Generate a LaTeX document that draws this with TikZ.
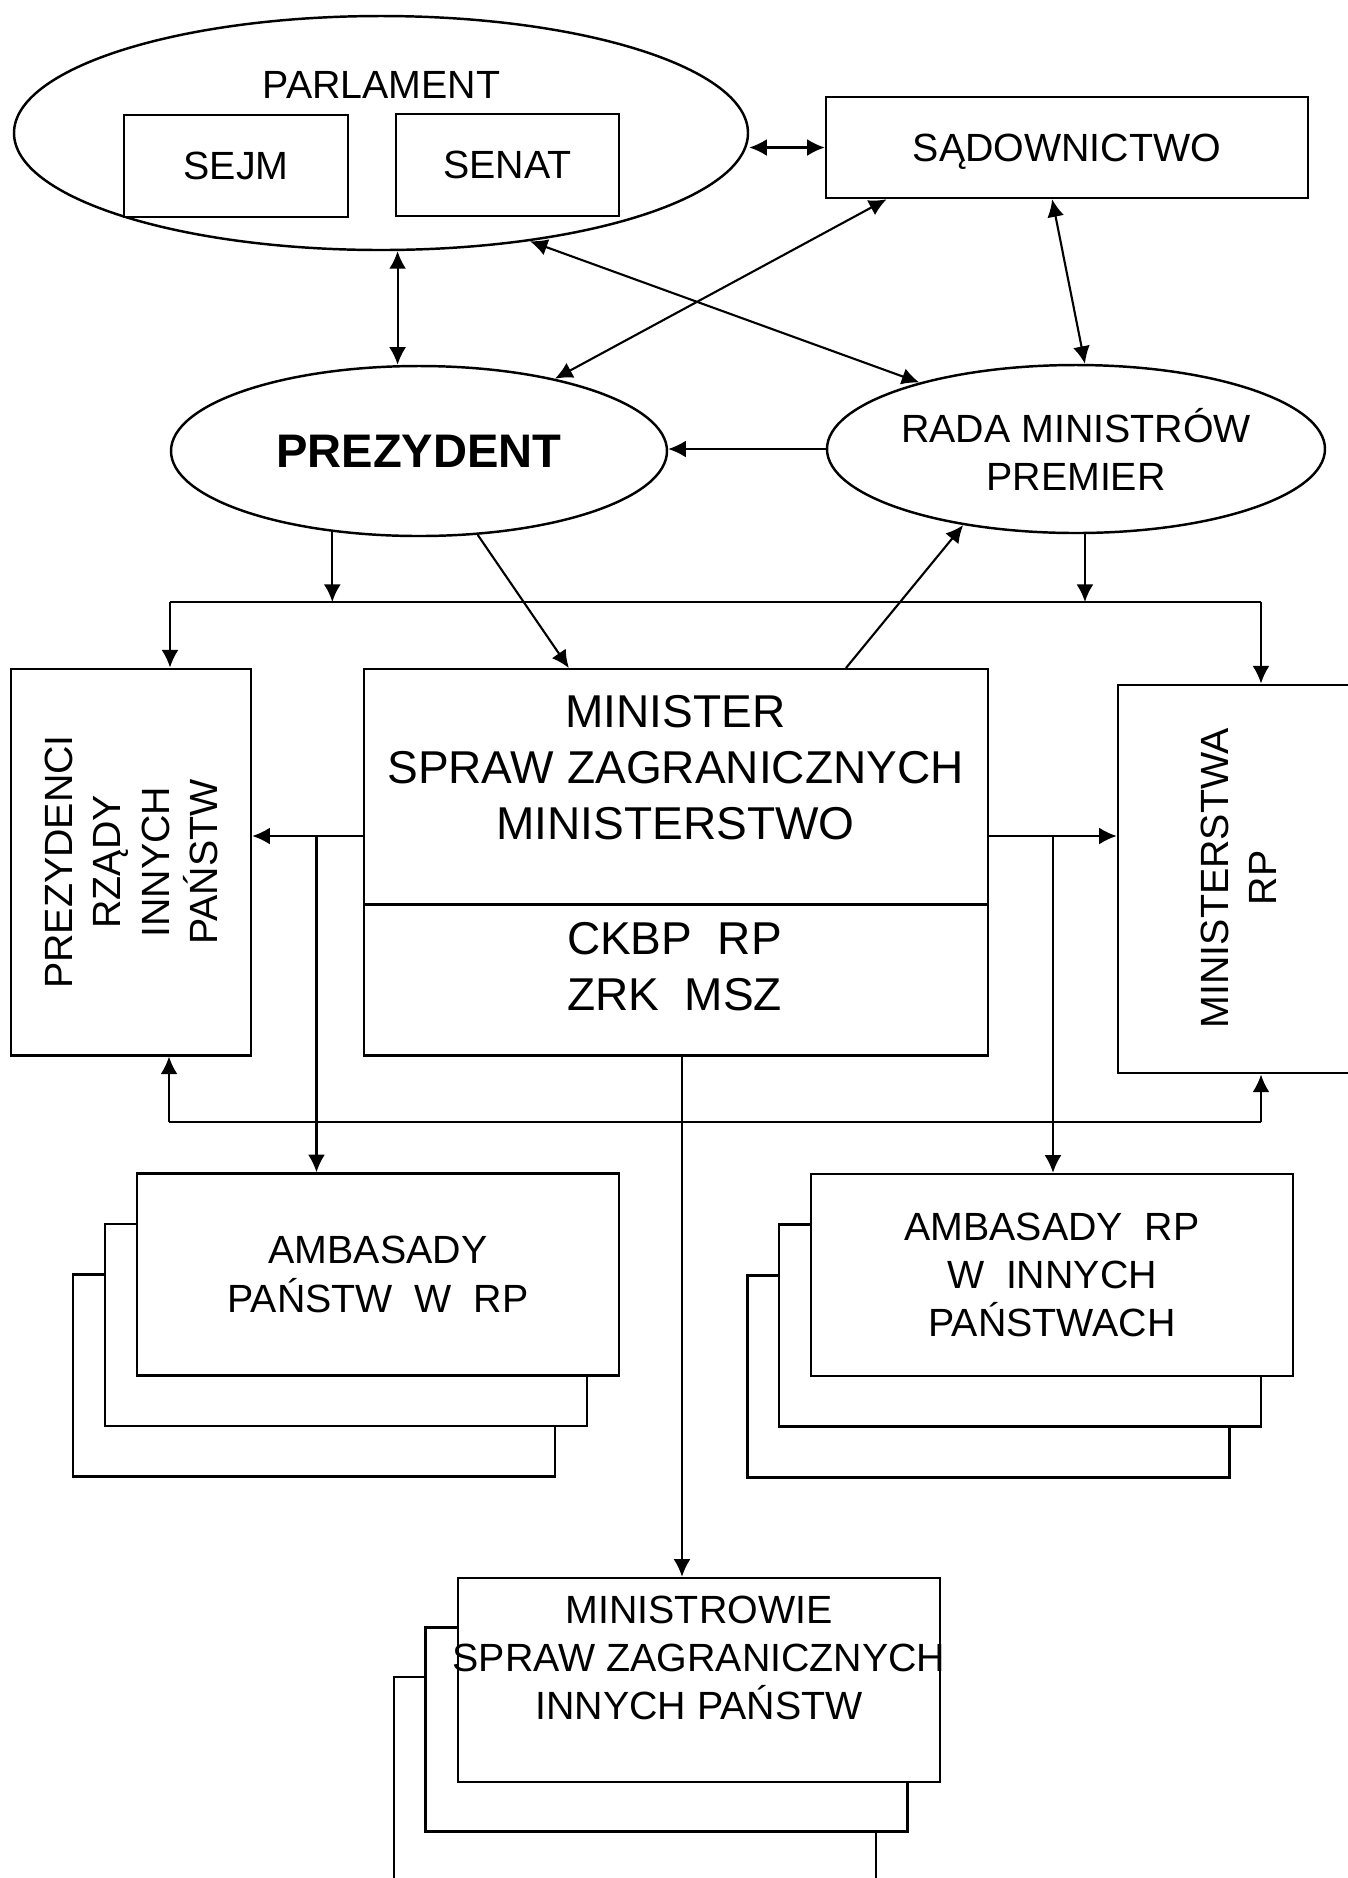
\documentclass[tikz,border=0pt]{standalone}
\usepackage{fontspec}
\setmainfont{Liberation Sans}
\usepackage{tikz}
\usetikzlibrary{shapes.geometric, arrows.meta}
\usetikzlibrary{calc}
\newcommand{\txtsmall}{\fontsize{11.2pt}{13.7pt}\selectfont}
\newcommand{\txtbig}{\fontsize{13.1pt}{15.9pt}\selectfont}
\tikzstyle{box} = [draw,line width=0.7pt,rectangle,inner sep=0pt,fill=white,font=\txtsmall,align=center]
\tikzstyle{oval} = [draw,line width=0.7pt,ellipse,inner sep=0pt,font=\txtsmall,align=center]
\tikzstyle{txt} = [inner sep=0pt,font=\txtsmall,align=center]
\tikzstyle{line} = [line width=0.6pt]
\tikzstyle{arrow} = [line width=0.6pt,->,>={Latex[length=5pt,width=4.8pt]}]
\tikzstyle{both} = [line width=0.6pt,<->,>={Latex[length=5pt,width=4.8pt]}]

\begin{document}
\begin{tikzpicture}
\useasboundingbox (0,0) rectangle (13.48,-18.78);

\node[oval,minimum width=7.34cm,minimum height=2.34cm] (parl) at (3.81,-1.33) {};
\node[txt] (parltxt) at (3.815,-0.845) {PARLAMENT};
\node[box,minimum width=2.24cm,minimum height=1.02cm] (sejm) at (2.36,-1.66) {SEJM};
\node[box,minimum width=2.23cm,minimum height=1.02cm] (senat) at (5.075,-1.65) {SENAT};
\node[box,minimum width=4.82cm,minimum height=1.01cm,text depth=0pt] (sad) at (10.67,-1.475) {SĄDOWNICTWO};

\node[oval,minimum width=4.96cm,minimum height=1.70cm,font=\fontsize{13.4pt}{16pt}\selectfont\bfseries] (prez) at (4.19,-4.51) {PREZYDENT};
\node[oval,minimum width=4.98cm,minimum height=1.68cm] (rada) at (10.76,-4.49) {RADA MINISTRÓW\\PREMIER};

\node[box,minimum width=2.40cm,minimum height=3.865cm] (prezi) at (1.31,-8.62) {};
\node[txt,rotate=90] (prezitxt) at (1.315,-8.62) {PREZYDENCI\\RZĄDY\\INNYCH\\PAŃSTW};
\node[box,minimum width=6.24cm,minimum height=2.355cm] (msz) at (6.76,-7.87) {};
\node[box,minimum width=6.24cm,minimum height=1.51cm] (ckbp) at (6.76,-9.80) {};
\node[txt,font=\txtbig] (msztxt) at (6.755,-7.68) {MINISTER\\SPRAW ZAGRANICZNYCH\\MINISTERSTWO};
\node[txt,font=\txtbig] (ckbptxt) at (6.745,-9.665) {CKBP~~RP\\ZRK~~MSZ};
\node[box,minimum width=2.42cm,minimum height=3.885cm] (minrp) at (12.39,-8.79) {};
\node[txt,rotate=90] (minrptxt) at (12.385,-8.78) {MINISTERSTWA\\RP};

% stacks, back to front
\node[box,minimum width=4.82cm,minimum height=2.02cm] (ambpl3) at (3.14,-13.755) {};
\node[box,minimum width=4.82cm,minimum height=2.02cm] (ambpl2) at (3.46,-13.25) {};
\node[box,minimum width=4.82cm,minimum height=2.02cm] (ambpl) at (3.78,-12.745) {AMBASADY\\PAŃSTW~~W~~RP};

\node[box,minimum width=4.82cm,minimum height=2.02cm] (amprp3) at (9.885,-13.765) {};
\node[box,minimum width=4.82cm,minimum height=2.02cm] (amprp2) at (10.20,-13.255) {};
\node[box,minimum width=4.82cm,minimum height=2.02cm] (amprp) at (10.52,-12.75) {AMBASADY~~RP\\W~~INNYCH\\PAŃSTWACH};

\node[box,minimum width=4.82cm,minimum height=2.04cm] (mini3) at (6.35,-17.79) {};
\node[box,minimum width=4.82cm,minimum height=2.04cm] (mini2) at (6.665,-17.295) {};
\node[box,minimum width=4.82cm,minimum height=2.04cm] (mini) at (6.99,-16.80) {};
\node[txt] (minitxt) at (6.99,-16.58) {MINISTROWIE\\SPRAW ZAGRANICZNYCH\\INNYCH PAŃSTW};

\coordinate (railTL) at (1.70,-6.02);
\coordinate (railTR) at (12.61,-6.02);
\coordinate (railBL) at (1.69,-11.22);
\coordinate (railBR) at (12.61,-11.22);
\coordinate (brL) at (3.165,-8.36);
\coordinate (brR) at (10.53,-8.36);
\coordinate (down) at (6.82,-11.22);

\draw [both] (sad.west) -- (sad.west -| parl.east);
\draw [both] (parl.-82) -- (parl.-82 |- prez.north);
\draw [both] (sad.196) -- (prez.28);
\draw [both] (parl.-36) -- (rada.157);
\draw [both] (sad.-106) -- (rada.84);
\draw [arrow] (rada.west) -- (rada.west -| prez.east);

\draw [line] (railTL) -- (railTR);
\draw [arrow] (prez.-137) -- (prez.-137 |- railTL);
\draw [arrow] (rada.-84) -- (rada.-84 |- railTR);
\draw [arrow] (railTL) -- (railTL |- prezi.north);
\draw [arrow] (railTR) -- (railTR |- minrp.north);
\draw [arrow] (prez.-55) -- (msz.132);
\draw [arrow] (msz.35) -- (rada.-146);

\draw [arrow] (msz.west |- brL) -- (prezi.east |- brL);
\draw [arrow] (brL) -- (brL |- ambpl.north);
\draw [arrow] (msz.east |- brR) -- (minrp.west |- brR);
\draw [arrow] (brR) -- (brR |- amprp.north);

\draw [line] (railBL) -- (railBR);
\draw [arrow] (railBL) -- (railBL |- prezi.south);
\draw [arrow] (railBR) -- (railBR |- minrp.south);
\draw [arrow] (ckbp.south -| down) -- (down |- mini.north);

\end{tikzpicture}
\end{document}
